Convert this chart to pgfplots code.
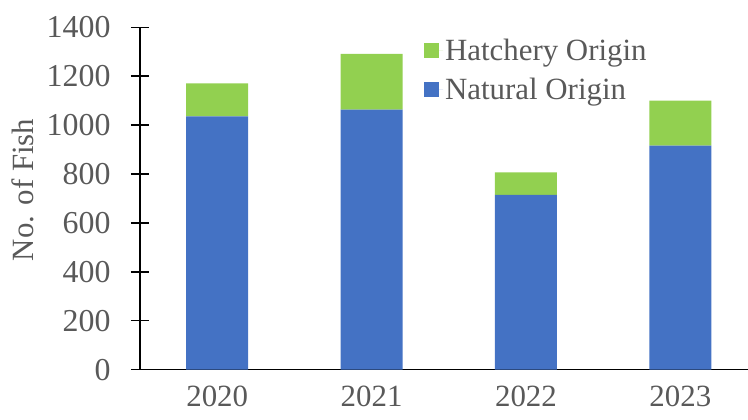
\documentclass[border=0pt]{standalone}
\usepackage{fontspec}
\setmainfont{Liberation Serif}
\usepackage{pgfplots}
\pgfplotsset{compat=1.18}
\definecolor{natblue}{HTML}{4472C4}
\definecolor{hatgreen}{HTML}{92D050}
\definecolor{txtgray}{HTML}{595959}
\begin{document}
\begin{tikzpicture}
\begin{axis}[
  at={(0,0)}, anchor=south west,
  scale only axis, width=608bp, height=342.3bp,
  ybar stacked, bar width=62bp,
  xmin=-0.5, xmax=3.438, ymin=0, ymax=1400,
  enlargelimits=false,
  ytick={0,200,...,1400},
  xtick={0,1,2,3}, xticklabels={2020,2021,2022,2023},
  axis x line=bottom, axis y line=left,
  axis line style={-, line width=1.5bp, black},
  x tick style={draw=none},
  y tick style={line width=1.5bp, black},
  tick align=center, major tick length=18bp,
  scaled ticks=false,
  /pgf/number format/1000 sep={},
  /pgf/number format/assume math mode=true,
  tick label style={font=\fontsize{32}{38}\selectfont, text=txtgray},
  yticklabel style={anchor=east, xshift=-17bp},
  xticklabel style={anchor=north, yshift=-6bp, inner sep=1bp, font=\fontsize{31}{36}\selectfont},
  ylabel={No. of Fish},
  ylabel style={font=\fontsize{31}{37}\selectfont, text=txtgray, at={(axis description cs:-0.1924,0.525)}, anchor=center, rotate=0},
  legend style={at={(axis description cs:0.462,0.977)}, anchor=north west, draw=none, fill=none,
    font=\fontsize{31}{37}\selectfont, text=txtgray, row sep=12bp},
  legend cell align=left,
  reverse legend,
  legend image code/.code={\fill[#1] (0bp,-7.5bp) rectangle (15bp,7.5bp); \path (0bp,0bp) -- (19bp,0bp);},
]
\addplot[fill=natblue, draw=none] coordinates {(0,1036) (1,1063) (2,715) (3,916)};
\addplot[fill=hatgreen, draw=none] coordinates {(0,135) (1,228) (2,92) (3,184)};
\legend{Natural Origin, Hatchery Origin}
\end{axis}
\pgfresetboundingbox
\useasboundingbox (-140bp,-49.6bp) rectangle (608bp,369.6bp);
\end{tikzpicture}
\end{document}
